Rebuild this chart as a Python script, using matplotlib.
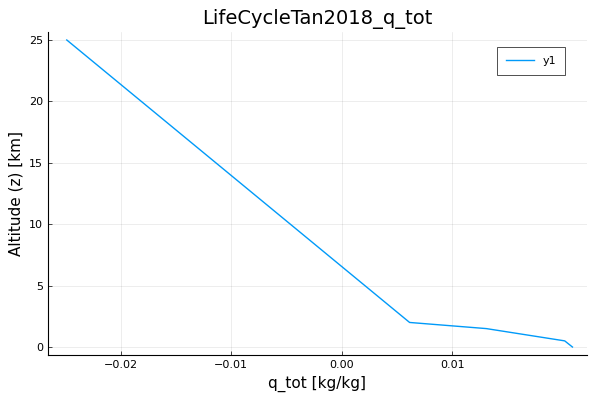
import matplotlib
matplotlib.use("Agg")
import matplotlib.pyplot as plt

# profile
q_tot = [-0.0249, 0.00615, 0.0131, 0.0202, 0.0209]
z_km = [25.0, 2.0, 1.5, 0.5, 0.0]

fig = plt.figure(figsize=(6, 4), dpi=100)
ax = fig.add_axes([0.08, 0.1125, 0.898, 0.8075])
ax.plot(q_tot, z_km, color="#009af9", linewidth=1, label="y1")
ax.set_xlim(-0.0266, 0.0222)
ax.set_ylim(-0.65, 25.65)
ax.set_xticks([-0.02, -0.01, 0.0, 0.01])
ax.set_xticklabels(["\u22120.02", "\u22120.01", "0.00", "0.01"])
ax.set_yticks([0, 5, 10, 15, 20, 25])
ax.grid(True, color="#000000", alpha=0.1, linewidth=0.5)
for s in ["top", "right"]:
    ax.spines[s].set_visible(False)
ax.tick_params(labelsize=8, direction="in", length=3, width=0.5)
ax.set_xlabel("q_tot [kg/kg]", fontsize=11)
ax.set_ylabel("Altitude (z) [km]", fontsize=11)
ax.set_title("LifeCycleTan2018_q_tot", fontsize=14)
leg = ax.legend(loc="upper right", bbox_to_anchor=(0.97, 0.97), fontsize=8,
                fancybox=False, edgecolor="black", handlelength=2.5, borderpad=0.8)
leg.get_frame().set_linewidth(0.6)
fig.savefig("out.png", dpi=100)
